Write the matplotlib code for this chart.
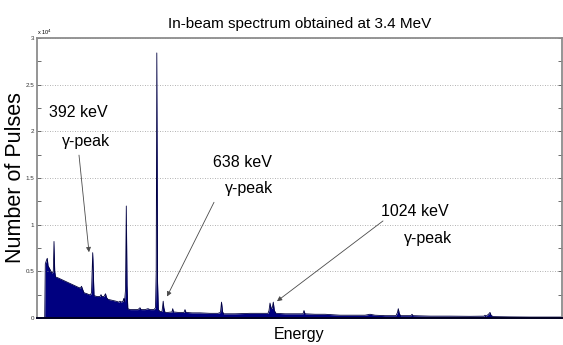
import matplotlib
matplotlib.use("Agg")

import matplotlib.pyplot as plt
from matplotlib.ticker import FuncFormatter, MultipleLocator


# Spectrum outline: channel vs. number of pulses
channels = [
    15.4, 16.6, 19, 20.6, 22, 25, 27, 30, 32.6, 34, 35.4, 37, 42, 50, 58,
    66, 74, 82, 87, 89, 91, 94, 100, 104, 107, 109, 110, 111.4, 112.8, 114,
    120, 126, 128, 130, 134, 137, 139, 142, 150, 158, 164, 166, 168, 172,
    173.6, 175, 177, 178.6, 180, 181.6, 186, 196, 202, 206, 208, 216, 222,
    226, 234, 237, 238.4, 239.6, 241, 242.6, 246, 250, 251.2, 252.4, 253.6,
    256, 262, 270, 271.4, 272.8, 282, 294, 296, 298, 310, 326, 346, 362,
    367, 369, 371, 373, 396, 426, 446, 462, 464, 466, 468.4, 470.6, 472.6,
    474.6, 478, 496, 516, 532, 534, 536, 556, 576, 606, 636, 656, 666, 676,
    696, 718, 721, 722.6, 724.4, 727, 748, 750, 752, 786, 826, 866, 894,
    896, 898, 903, 906, 908, 912, 946, 986, 1026, 1050,
]
pulses = [
    0, 5800, 6200, 6400, 5600, 5300, 5100, 4800, 5000, 8200, 5000, 4400,
    4300, 4100, 3900, 3700, 3500, 3300, 3200, 3400, 3100, 2700, 2600, 2500,
    2500, 2700, 4500, 7000, 4500, 2400, 2300, 2300, 2500, 2300, 2300, 2600,
    2200, 2000, 1900, 1800, 1700, 1800, 1700, 1800, 2100, 1700, 3000, 12000,
    3500, 1000, 900, 900, 900, 1100, 900, 900, 1000, 900, 900, 1100, 5000,
    28400, 4000, 900, 700, 700, 1200, 1800, 1100, 600, 600, 650, 1000, 650,
    600, 600, 900, 600, 550, 550, 500, 500, 600, 1700, 700, 450, 450, 500,
    500, 500, 800, 1600, 1000, 1100, 1700, 800, 500, 450, 450, 450, 800,
    450, 400, 400, 300, 300, 300, 400, 300, 250, 250, 600, 1000, 500, 250,
    250, 400, 250, 200, 200, 180, 200, 300, 200, 400, 600, 300, 150, 120,
    100, 100, 100,
]

# Peak labels: text, label position, arrow tail, arrow tip (channel, pulses)
peak_labels = ["392 keV", "638 keV", "1024 keV"]
label_pos = [(82, 22000), (410, 16700), (756, 11400)]
sub_pos = [(98, 18900), (424, 13900), (782, 8550)]
arrow_tail = [(84, 17450), (354, 12400), (692, 10400)]
arrow_tip = [(104, 7050), (260, 2300), (480, 1800)]

FONT = ["Liberation Sans", "DejaVu Sans"]

fig = plt.figure(figsize=(5.63, 3.45), dpi=100)
ax = fig.add_axes([37 / 563, 27 / 345, 525 / 563, 280 / 345])

ax.fill_between(channels, pulses, 0, color="#000080", lw=0)
ax.plot(channels, pulses, color="#000040", lw=0.6)

ax.set_xlim(0, 1050)
ax.set_ylim(0, 30000)
ax.set_xticks([])

ax.yaxis.set_major_locator(MultipleLocator(5000))
ax.yaxis.set_minor_locator(MultipleLocator(2500))
ax.yaxis.set_major_formatter(
    FuncFormatter(lambda v, _: f"{v / 1e4:g}")
)
ax.tick_params(
    axis="y",
    which="both",
    direction="in",
    left=True,
    right=True,
    length=3,
    width=0.6,
    color="#555555",
    labelsize=4.5,
    labelcolor="#333333",
    pad=2,
)
for lab in ax.get_yticklabels():
    lab.set_family(FONT)

ax.grid(
    axis="y",
    which="major",
    color="#999999",
    linestyle=(0, (1, 2)),
    linewidth=0.6,
)

for side in ["top", "left", "right"]:
    ax.spines[side].set_color("#8c8c8c")
    ax.spines[side].set_linewidth(1.3)
ax.spines["bottom"].set_color("#000020")
ax.spines["bottom"].set_linewidth(1.4)

ax.text(
    0.0,
    1.004,
    r"x 10$^4$",
    transform=ax.transAxes,
    fontsize=4,
    family=FONT,
    ha="left",
    va="bottom",
)

ax.set_title(
    "In-beam spectrum obtained at 3.4 MeV",
    fontsize=11,
    family=FONT,
    pad=7,
)
ax.set_xlabel("Energy", fontsize=11.5, family=FONT)
ax.xaxis.set_label_coords(0.5, -0.032)
ax.set_ylabel("Number of Pulses", fontsize=15.5, family=FONT)
ax.yaxis.set_label_coords(-11 / 525, 0.5)

for text, pos, sub, tail, tip in zip(
    peak_labels, label_pos, sub_pos, arrow_tail, arrow_tip
):
    ax.text(pos[0], pos[1], text, fontsize=11.5, family=FONT,
            ha="center", va="center")
    ax.text(sub[0], sub[1], "\u03b3-peak", fontsize=11.5, family=FONT,
            ha="center", va="center")
    ax.annotate(
        "",
        xy=tip,
        xytext=tail,
        arrowprops=dict(
            arrowstyle="-|>",
            color="#4a4a4a",
            lw=0.6,
            mutation_scale=7,
            shrinkA=0,
            shrinkB=0,
        ),
    )

fig.savefig("out.png", dpi=100)
